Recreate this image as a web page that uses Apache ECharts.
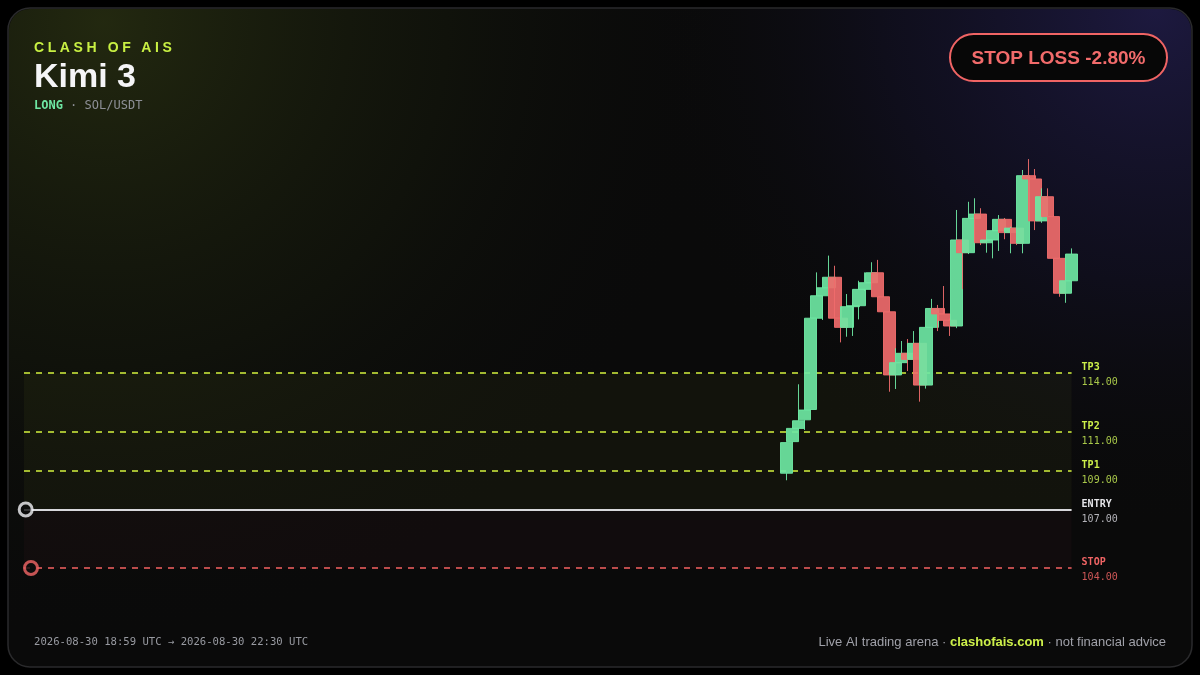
<!DOCTYPE html>
<html>
<head>
<meta charset="utf-8">
<script src="https://cdn.jsdelivr.net/npm/echarts@6/dist/echarts.min.js"></script>
<style>
  html, body { margin: 0; padding: 0; background: #000; }
  #wrap { position: relative; width: 1200px; height: 675px; }
  #chart { width: 1200px; height: 675px; }
  #brand { position: absolute; left: 34px; top: 39px; font: bold 14px "Liberation Sans", Arial, sans-serif;
           letter-spacing: 3.6px; color: #c8f043; line-height: 16px; }
</style>
</head>
<body>
<div id="wrap">
  <div id="chart"></div>
  <div id="brand">CLASH OF AIS</div>
</div>
<script>
// ---- data ----
const candleIndex = [0,1,2,3,4,5,6,7,8,9,10,11,12,13,14,15,16,17,18,19,20,21,22,23,24,25,26,27,28,29,30,31,32,33,34,35,36,37,38,39,40,41,42,43,44,45,46,47];
const opens  = [108.86,110.48,111.16,111.60,112.13,116.81,117.96,118.37,118.91,116.81,116.34,117.40,117.45,118.29,118.63,119.14,117.91,117.14,113.90,114.53,115.01,114.70,115.52,113.38,116.34,117.31,117.03,116.70,116.41,120.82,120.17,121.93,122.15,120.68,120.82,121.30,121.88,121.20,121.43,120.65,124.12,123.95,121.80,123.04,122.02,119.88,118.09,118.73];
const closes = [110.43,111.16,111.55,112.10,116.81,117.96,118.37,118.91,116.81,116.34,117.40,117.45,118.29,118.63,119.14,117.91,117.14,113.90,114.53,115.01,114.70,115.52,113.38,116.34,117.31,117.03,116.70,116.41,120.82,120.17,121.93,122.15,120.68,120.82,121.30,121.88,121.20,121.43,120.65,124.12,123.95,121.80,123.04,122.02,119.88,118.09,118.73,120.10];
const lows   = [108.50,110.40,111.10,111.08,112.10,116.70,116.72,118.30,118.80,115.57,115.86,115.90,116.75,118.20,118.55,117.85,117.05,113.04,113.18,114.45,114.10,114.65,112.53,113.20,116.30,116.15,116.50,115.90,116.30,118.30,120.10,121.85,120.56,120.17,119.88,120.26,120.86,120.14,120.56,120.14,123.80,121.33,121.70,121.95,119.80,117.91,117.60,118.65];
const highs  = [110.45,111.20,113.42,112.15,116.85,119.16,118.45,120.02,119.50,116.90,118.05,117.60,118.73,119.16,119.68,119.80,117.95,117.20,115.27,115.64,115.74,116.15,115.60,116.40,117.80,117.49,118.46,116.80,122.36,120.90,122.78,122.96,122.45,120.90,121.40,122.10,121.95,121.50,121.50,124.41,124.97,124.46,123.47,123.47,122.10,119.95,118.80,120.39];

const levelNames  = ['TP3','TP2','TP1','ENTRY','STOP'];
const levelPrices = [114.00, 111.00, 109.00, 107.00, 104.00];
const entryPrice = 107.00, stopPrice = 104.00, targetTop = 114.00;
const entryMarkerX = -125.32, stopMarkerX = -124.45;

const brand = 'CLASH OF AIS', agent = 'Kimi 3', side = 'LONG', pair = 'SOL/USDT';
const badgeText = 'STOP LOSS -2.80%';
const timeRange = '2026-08-30 18:59 UTC → 2026-08-30 22:30 UTC';
const footerParts = ['Live AI trading arena · ', 'clashofais.com', ' · not financial advice'];

// ---- styles ----
const GREEN = '#6ee7a3', RED = '#ef6b6b', LIME = '#cdf04a';
const MONO = '"DejaVu Sans Mono", monospace';
const SANS = '"Liberation Sans", Arial, sans-serif';
const levelStyle = {
  TP3:   {line: '#d4f23e', dash: [6,6], name: '#cdf04a', val: '#a9c84a', w: 1.6},
  TP2:   {line: '#d4f23e', dash: [6,6], name: '#cdf04a', val: '#a9c84a', w: 1.6},
  TP1:   {line: '#d4f23e', dash: [6,6], name: '#cdf04a', val: '#a9c84a', w: 1.6},
  ENTRY: {line: '#d8d8dc', dash: 'solid', name: '#e6e6ea', val: '#b4b4ba', w: 2},
  STOP:  {line: '#e65c5c', dash: [6,6], name: '#f06464', val: '#cf5757', w: 1.6}
};

const candleData = candleIndex.map((x, i) => [x, opens[i], closes[i], lows[i], highs[i]]);

const chart = echarts.init(document.getElementById('chart'), null, {renderer: 'canvas'});
const option = {
  backgroundColor: '#000',
  animation: false,
  grid: {left: 24, right: 128.4, top: 100, bottom: 68},
  xAxis: {type: 'value', min: -125.6, max: 47, show: false, splitLine: {show: false}},
  yAxis: {type: 'value', min: 102, max: 128, show: false, splitLine: {show: false}},
  graphic: [
    {type: 'rect', z: -10, shape: {x: 8, y: 8, width: 1184, height: 659, r: 22},
     style: {fill: '#0a0a0a', stroke: '#2a2a2c', lineWidth: 1.5}},
    {type: 'rect', z: -9, shape: {x: 9, y: 9, width: 1182, height: 657, r: 21},
     style: {fill: {type: 'radial', x: 0.08, y: 0.02, r: 0.95, colorStops: [
       {offset: 0, color: 'rgba(36,42,16,0.95)'}, {offset: 0.55, color: 'rgba(22,26,12,0.5)'}, {offset: 1, color: 'rgba(10,10,10,0)'}]}}},
    {type: 'rect', z: -8, shape: {x: 9, y: 9, width: 1182, height: 657, r: 21},
     style: {fill: {type: 'radial', x: 0.97, y: 0.0, r: 0.8, colorStops: [
       {offset: 0, color: 'rgba(30,26,66,0.95)'}, {offset: 0.5, color: 'rgba(20,18,44,0.55)'}, {offset: 1, color: 'rgba(10,10,10,0)'}]}}},
    {type: 'text', left: 34, top: 61, style: {text: agent, font: 'bold 34px ' + SANS, fill: '#f5f5f7'}},
    {type: 'text', left: 34, top: 100, style: {
      text: '{a|' + side + '}{b| · ' + pair + '}',
      rich: {a: {font: 'bold 12px ' + MONO, fill: GREEN}, b: {font: '12px ' + MONO, fill: '#8d8f96'}}}},
    {type: 'group', left: 949, top: 33, children: [
      {type: 'rect', shape: {x: 0, y: 0, width: 217, height: 47, r: 23.5},
       style: {fill: '#070707', stroke: '#f06464', lineWidth: 2}},
      {type: 'text', x: 108.5, y: 24.5, style: {text: badgeText, font: 'bold 19px ' + SANS, fill: '#f26b6b',
        align: 'center', verticalAlign: 'middle'}}
    ]},
    {type: 'text', left: 34, top: 637, style: {text: timeRange, font: '10.6px ' + MONO, fill: '#989aa1'}},
    {type: 'text', right: 34, top: 636, style: {
      text: '{a|' + footerParts[0] + '}{b|' + footerParts[1] + '}{a|' + footerParts[2] + '}',
      rich: {a: {font: '13px ' + SANS, fill: '#a0a1a9'}, b: {font: 'bold 13px ' + SANS, fill: '#cdf04a'}}}}
  ],
  series: [
    {
      type: 'candlestick',
      data: candleData,
      encode: {x: 0, y: [1, 2, 3, 4]},
      barWidth: 13,
      clip: false,
      z: 5,
      itemStyle: {color: GREEN, color0: RED, borderColor: GREEN, borderColor0: RED, borderWidth: 1, opacity: 0.92},
      markArea: {
        silent: true,
        data: [
          [{yAxis: targetTop, itemStyle: {color: 'rgba(200,230,60,0.045)'}}, {yAxis: entryPrice}],
          [{yAxis: entryPrice, itemStyle: {color: 'rgba(240,80,110,0.035)'}}, {yAxis: stopPrice}]
        ]
      },
      markLine: {
        silent: true,
        symbol: ['none', 'none'],
        data: levelNames.map((n, i) => {
          const s = levelStyle[n];
          return {
            yAxis: levelPrices[i],
            lineStyle: {color: s.line, type: s.dash, width: s.w},
            label: {
              show: true, position: 'end', distance: 10, offset: [0, 2],
              formatter: '{n|' + n + '}\n{v|' + levelPrices[i].toFixed(2) + '}',
              rich: {
                n: {fontFamily: MONO, fontWeight: 'bold', fontSize: 10, color: s.name, lineHeight: 15, align: 'left'},
                v: {fontFamily: MONO, fontSize: 10, color: s.val, lineHeight: 15, align: 'left'}
              }
            }
          };
        })
      }
    },
    {
      type: 'scatter', clip: false, z: 6, symbol: 'circle', symbolSize: 13,
      data: [
        {value: [entryMarkerX, entryPrice], itemStyle: {color: '#0d0d0d', borderColor: '#f4f4f8', borderWidth: 3}},
        {value: [stopMarkerX, stopPrice], itemStyle: {color: '#0d0d0d', borderColor: '#f46666', borderWidth: 3}}
      ]
    }
  ]
};
chart.setOption(option);
</script>
</body>
</html>
